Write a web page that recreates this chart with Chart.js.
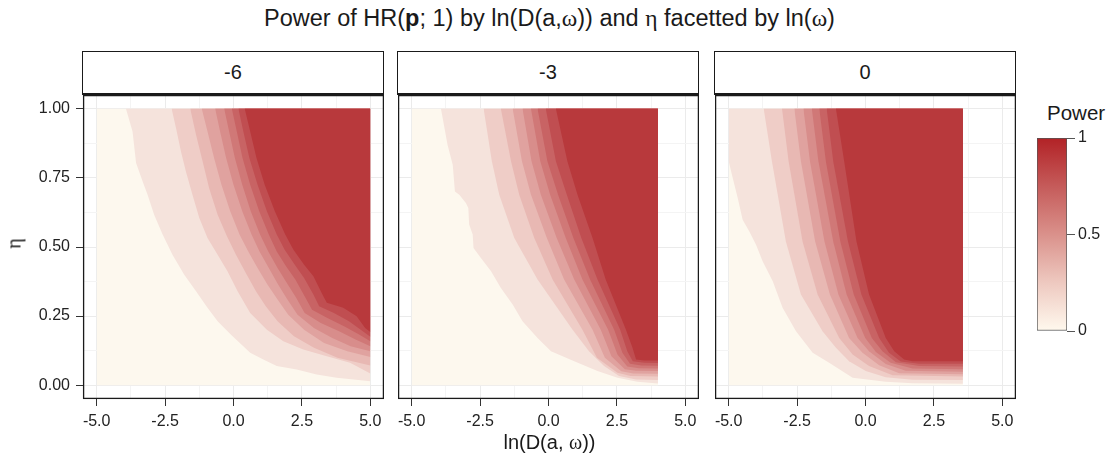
<!DOCTYPE html>
<html>
<head>
<meta charset="utf-8">
<script src="https://cdn.jsdelivr.net/npm/chart.js@4.4.1/dist/chart.umd.min.js"></script>
<style>
  body { margin: 0; width: 1114px; height: 462px; position: relative; overflow: hidden; background: #fff;
         font-family: "Liberation Sans", Arial, sans-serif; color: #1a1a1a; }
  .abs { position: absolute; }
  .sym { font-family: "Liberation Serif", "DejaVu Serif", serif; }
  #titulo { left: 83px; top: 5px; width: 933px; text-align: center; font-size: 23.5px; }
  .strip { box-sizing: border-box; top: 51px; height: 44px; width: 302px; background: #fff;
           border: 1.3px solid #1a1a1a; border-bottom: 2.6px solid #1a1a1a;
           text-align: center; font-size: 20px; line-height: 40px; }
  #xlab { left: 83px; top: 431px; width: 933px; text-align: center; font-size: 20px; }
  #ylab { left: 4px; top: 232px; width: 20px; text-align: center; font-size: 20px; transform: rotate(-90deg); }
  #legTitle { left: 1047px; top: 101px; font-size: 20.5px; }
</style>
</head>
<body>
<div id="titulo" class="abs">Power of HR(<b>p</b>; 1) by ln(D(a,<span class="sym">ω</span>)) and <span class="sym">η</span> facetted by ln(<span class="sym">ω</span>)</div>

<div id="strip0" class="abs strip" style="left:82px;"></div>
<div id="strip1" class="abs strip" style="left:397px;"></div>
<div id="strip2" class="abs strip" style="left:714px;"></div>

<canvas id="panel0" class="abs" width="384" height="367" style="left:0px; top:95px;"></canvas>
<canvas id="panel1" class="abs" width="301" height="367" style="left:398px; top:95px;"></canvas>
<canvas id="panel2" class="abs" width="301" height="367" style="left:715px; top:95px;"></canvas>

<div id="xlab" class="abs">ln(D(a, <span class="sym">ω</span>))</div>
<div id="ylab" class="abs sym">η</div>

<div id="legTitle" class="abs">Power</div>
<canvas id="leyenda" class="abs" width="77" height="210" style="left:1037px; top:130px;"></canvas>

<script>
// facetas de ln(omega)
const facetas = ['-6', '-3', '0'];
const xMaximo = [5, 4, 3.56];

// ticks de los ejes
const xTicks = [-5, -2.5, 0, 2.5, 5];
const yTicks = [0, 0.25, 0.5, 0.75, 1];
const xGrid = [-5, -3.75, -2.5, -1.25, 0, 1.25, 2.5, 3.75, 5];
const yGrid = [0, 0.125, 0.25, 0.375, 0.5, 0.625, 0.75, 0.875, 1];
const ticksPower = [0, 0.5, 1];

// niveles de potencia (limite inferior de cada banda)
const nivelesPower = [0, 0.1, 0.2, 0.3, 0.4, 0.5, 0.6, 0.7, 0.8, 0.9];

// contornos [ln(D), eta] para los niveles 0.1 ... 0.9, faceta ln(omega) = -6
const contornosM6 = [
  [[-3.93,1],[-3.69,0.918],[-3.56,0.804],[-3.32,0.737],[-3.14,0.689],[-2.90,0.617],[-2.59,0.545],[-2.23,0.472],[-1.80,0.400],[-1.37,0.340],[-0.95,0.280],[-0.58,0.231],[-0.10,0.183],[0.61,0.117],[1.09,0.093],[1.58,0.069],[2.31,0.057],[3.04,0.039],[3.77,0.027],[5.0,0.014]],
  [[-2.26,1],[-2.10,0.93],[-1.92,0.846],[-1.74,0.773],[-1.50,0.689],[-1.25,0.605],[-0.95,0.533],[-0.58,0.472],[-0.22,0.412],[0.15,0.340],[0.61,0.261],[1.22,0.201],[1.82,0.159],[2.55,0.129],[3.41,0.105],[4.26,0.081],[5.0,0.042]],
  [[-1.58,1],[-1.37,0.906],[-1.13,0.81],[-0.89,0.713],[-0.58,0.617],[-0.24,0.539],[0.09,0.472],[0.45,0.406],[0.82,0.340],[1.18,0.286],[1.61,0.231],[2.21,0.177],[2.94,0.135],[3.80,0.099],[5.0,0.071]],
  [[-1.16,1],[-0.95,0.918],[-0.71,0.822],[-0.44,0.725],[-0.12,0.629],[0.22,0.545],[0.54,0.484],[0.88,0.424],[1.24,0.364],[1.61,0.310],[2.00,0.255],[2.58,0.201],[3.31,0.153],[4.16,0.123],[5.0,0.102]],
  [[-0.67,1],[-0.49,0.918],[-0.27,0.822],[0.0,0.725],[0.32,0.629],[0.66,0.545],[0.95,0.484],[1.29,0.424],[1.63,0.364],[1.97,0.310],[2.34,0.255],[2.94,0.207],[3.61,0.171],[4.28,0.141],[5.0,0.123]],
  [[-0.34,1],[-0.16,0.918],[0.05,0.822],[0.32,0.725],[0.63,0.629],[0.97,0.545],[1.27,0.484],[1.61,0.424],[1.95,0.370],[2.29,0.316],[2.60,0.261],[3.19,0.225],[3.86,0.195],[4.46,0.165],[5.0,0.141]],
  [[-0.06,1],[0.12,0.918],[0.33,0.822],[0.61,0.725],[0.94,0.629],[1.29,0.545],[1.58,0.484],[1.92,0.430],[2.26,0.382],[2.60,0.322],[2.87,0.273],[3.43,0.243],[4.04,0.213],[4.59,0.183],[5.0,0.159]],
  [[0.18,1],[0.36,0.918],[0.58,0.822],[0.88,0.725],[1.22,0.629],[1.58,0.545],[1.87,0.490],[2.24,0.436],[2.58,0.388],[2.92,0.328],[3.13,0.286],[3.67,0.261],[4.22,0.231],[4.65,0.201],[5.0,0.175]],
  [[0.41,1],[0.61,0.918],[0.84,0.822],[1.14,0.725],[1.51,0.629],[1.89,0.545],[2.19,0.490],[2.58,0.436],[2.92,0.394],[3.25,0.328],[3.41,0.298],[4.01,0.280],[4.50,0.249],[4.81,0.207],[5.0,0.192]]
];

// faceta ln(omega) = -3
const contornosM3 = [
  [[-3.93,1],[-3.69,0.870],[-3.50,0.798],[-3.42,0.701],[-3.26,0.689],[-3.02,0.659],[-2.93,0.641],[-2.90,0.581],[-2.77,0.545],[-2.74,0.496],[-2.47,0.460],[-2.10,0.412],[-1.74,0.352],[-1.31,0.292],[-0.95,0.231],[-0.40,0.171],[0.09,0.123],[0.94,0.087],[1.79,0.051],[2.52,0.027],[3.25,0.012],[4.0,0.006]],
  [[-2.37,1],[-2.07,0.81],[-1.80,0.689],[-1.25,0.533],[-0.40,0.382],[0.88,0.201],[1.48,0.123],[2.03,0.069],[2.58,0.033],[3.2,0.021],[4.0,0.019]],
  [[-1.74,1],[-1.37,0.81],[-1.07,0.689],[-0.52,0.533],[0.15,0.382],[1.24,0.201],[1.77,0.099],[2.52,0.045],[3.0,0.033],[4.0,0.031]],
  [[-1.31,1],[-0.97,0.81],[-0.64,0.689],[-0.06,0.533],[0.57,0.382],[1.61,0.201],[2.06,0.099],[2.66,0.050],[3.1,0.042],[4.0,0.041]],
  [[-0.95,1],[-0.62,0.81],[-0.28,0.689],[0.30,0.533],[0.94,0.382],[1.91,0.201],[2.30,0.105],[2.79,0.058],[3.2,0.052],[4.0,0.051]],
  [[-0.64,1],[-0.30,0.81],[0.06,0.689],[0.63,0.533],[1.24,0.382],[2.18,0.201],[2.52,0.111],[2.88,0.068],[3.3,0.061],[4.0,0.060]],
  [[-0.40,1],[-0.04,0.81],[0.35,0.689],[0.91,0.533],[1.52,0.382],[2.40,0.201],[2.70,0.117],[2.98,0.078],[3.4,0.071],[4.0,0.070]],
  [[-0.10,1],[0.27,0.81],[0.67,0.689],[1.20,0.533],[1.79,0.382],[2.62,0.201],[2.88,0.123],[3.08,0.087],[3.5,0.081],[4.0,0.080]],
  [[0.27,1],[0.69,0.81],[1.06,0.689],[1.61,0.533],[2.09,0.382],[2.83,0.201],[3.07,0.135],[3.20,0.093],[3.5,0.089],[4.0,0.089]]
];

// faceta ln(omega) = 0
const contornos0 = [
  [[-5,0.81],[-4.85,0.749],[-4.67,0.677],[-4.49,0.599],[-4.25,0.557],[-4.0,0.508],[-3.76,0.448],[-3.39,0.376],[-3.03,0.280],[-2.54,0.195],[-1.93,0.117],[-1.33,0.081],[-0.47,0.027],[0.74,0.012],[1.72,0.007],[3.56,0.005]],
  [[-3.72,1],[-3.42,0.81],[-2.91,0.52],[-2.36,0.328],[-1.57,0.195],[-1.08,0.135],[-0.60,0.087],[0.01,0.051],[0.74,0.029],[1.72,0.020],[3.56,0.019]],
  [[-3.05,1],[-2.81,0.81],[-2.30,0.52],[-1.75,0.328],[-0.96,0.171],[-0.47,0.111],[0.13,0.069],[0.99,0.036],[3.56,0.031]],
  [[-2.60,1],[-2.36,0.81],[-1.84,0.52],[-1.30,0.328],[-0.60,0.171],[-0.11,0.117],[0.50,0.072],[1.23,0.043],[3.56,0.040]],
  [[-2.27,1],[-2.03,0.81],[-1.50,0.52],[-0.99,0.328],[-0.29,0.171],[0.13,0.123],[0.74,0.077],[1.47,0.052],[3.56,0.049]],
  [[-1.96,1],[-1.72,0.81],[-1.18,0.52],[-0.69,0.328],[-0.01,0.171],[0.38,0.120],[0.92,0.081],[1.72,0.060],[3.56,0.058]],
  [[-1.69,1],[-1.45,0.81],[-0.92,0.52],[-0.43,0.328],[0.23,0.171],[0.62,0.123],[1.11,0.083],[1.96,0.069],[3.56,0.068]],
  [[-1.42,1],[-1.18,0.81],[-0.64,0.52],[-0.15,0.328],[0.50,0.171],[0.86,0.117],[1.29,0.086],[1.96,0.078],[3.56,0.078]],
  [[-1.08,1],[-0.78,0.81],[-0.33,0.52],[0.13,0.328],[0.74,0.171],[1.05,0.123],[1.41,0.093],[1.72,0.087],[3.56,0.087]]
];

const contornos = [contornosM6, contornosM3, contornos0];

// colores de las bandas, de 0 a 0.9
const coloresBanda = ['#FDF8EE', '#F5E3DC', '#EFCDC7', '#E8B8B3', '#E0A29F', '#D88D8B', '#D07877', '#C86364', '#C04E51', '#B8393C'];

Chart.defaults.font.family = '"Liberation Sans", Arial, sans-serif';
Chart.defaults.color = '#222';

const esMayor = (lista, v) => lista.some(t => Math.abs(t - v) < 1e-9);

// marco negro alrededor del panel
const marcoPanel = {
    id: 'marcoPanel',
    afterDraw(chart) {
        const { ctx, chartArea: a } = chart;
        ctx.save();
        ctx.strokeStyle = '#1a1a1a';
        ctx.lineWidth = 1.3;
        ctx.strokeRect(a.left + 0.6, a.top + 0.6, a.right - a.left - 1.2, a.bottom - a.top - 1.2);
        ctx.restore();
    }
};

function crearPanel(i) {
    const xMax = xMaximo[i];
    const lineas = contornos[i];
    const conEjeY = i === 0;

    // base: todo el rectangulo de datos en la banda mas baja
    const datasets = [{
        data: [{ x: xTicks[0], y: yTicks[0] }, { x: xMax, y: yTicks[0] }],
        backgroundColor: coloresBanda[0],
        order: lineas.length + 1
    }];
    lineas.forEach((linea, k) => {
        datasets.push({
            data: linea.map(([x, y]) => ({ x: x, y: y })),
            backgroundColor: coloresBanda[k + 1],
            order: lineas.length - k
        });
    });
    datasets.forEach(d => Object.assign(d, {
        fill: { value: yTicks[yTicks.length - 1] },
        borderWidth: 0, borderColor: 'rgba(0,0,0,0)', pointRadius: 0, tension: 0
    }));

    document.getElementById('strip' + i).innerText = facetas[i];

    new Chart(document.getElementById('panel' + i), {
        type: 'line',
        data: { datasets: datasets },
        plugins: [marcoPanel],
        options: {
            responsive: false,
            animation: false,
            events: [],
            layout: { padding: 0 },
            plugins: { legend: { display: false }, tooltip: { enabled: false } },
            scales: {
                x: {
                    type: 'linear', min: -5.5, max: 5.5,
                    afterBuildTicks: s => { s.ticks = xGrid.map(v => ({ value: v })); },
                    afterFit: s => { s.height = 63; s.paddingLeft = 0; s.paddingRight = 0; },
                    ticks: {
                        autoSkip: false, maxRotation: 0, padding: 6,
                        font: { size: 16 }, color: '#222',
                        callback: v => esMayor(xTicks, v) ? v.toFixed(1) : ''
                    },
                    grid: {
                        color: c => esMayor(xTicks, c.tick.value) ? '#EBEBEB' : '#F4F4F4',
                        lineWidth: 1,
                        tickLength: 7,
                        tickColor: c => esMayor(xTicks, c.tick.value) ? '#333' : 'rgba(0,0,0,0)'
                    },
                    border: { display: false }
                },
                y: {
                    type: 'linear', min: -0.05, max: 1.05,
                    afterBuildTicks: s => { s.ticks = yGrid.map(v => ({ value: v })); },
                    afterFit: s => { s.width = conEjeY ? 83 : 0; s.paddingTop = 0; s.paddingBottom = 0; },
                    ticks: {
                        display: conEjeY, autoSkip: false, padding: 6,
                        font: { size: 16 }, color: '#222',
                        callback: v => esMayor(yTicks, v) ? v.toFixed(2) : ''
                    },
                    grid: {
                        color: c => esMayor(yTicks, c.tick.value) ? '#EBEBEB' : '#F4F4F4',
                        lineWidth: 1,
                        drawTicks: conEjeY,
                        tickLength: 7,
                        tickColor: c => esMayor(yTicks, c.tick.value) ? '#333' : 'rgba(0,0,0,0)'
                    },
                    border: { display: false }
                }
            }
        }
    });
}

facetas.forEach((f, i) => crearPanel(i));

// barra de colores de la leyenda
new Chart(document.getElementById('leyenda'), {
    type: 'bar',
    data: {
        labels: ['Power'],
        datasets: [{
            data: [ticksPower[ticksPower.length - 1]],
            backgroundColor: (ctx) => {
                const area = ctx.chart.chartArea;
                if (!area) return coloresBanda[5];
                const g = ctx.chart.ctx.createLinearGradient(0, area.bottom, 0, area.top);
                g.addColorStop(0, '#FFF9EE');
                g.addColorStop(0.25, '#EEC9C0');
                g.addColorStop(0.5, '#DA918B');
                g.addColorStop(0.75, '#C55B5A');
                g.addColorStop(1, '#B22226');
                return g;
            },
            borderColor: '#555',
            borderWidth: 1,
            borderSkipped: false,
            barPercentage: 1,
            categoryPercentage: 1
        }]
    },
    options: {
        responsive: false,
        animation: false,
        events: [],
        layout: { padding: { top: 8, bottom: 9 } },
        plugins: { legend: { display: false }, tooltip: { enabled: false } },
        scales: {
            x: { display: false },
            y: {
                position: 'right', min: 0, max: 1,
                afterBuildTicks: s => { s.ticks = ticksPower.map(v => ({ value: v })); },
                afterFit: s => { s.width = 47; s.paddingTop = 0; s.paddingBottom = 0; },
                ticks: { padding: 3, font: { size: 16 }, color: '#222', callback: v => String(v) },
                grid: { drawOnChartArea: false, tickLength: 8, tickColor: '#555' },
                border: { display: false }
            }
        }
    }
});
</script>
</body>
</html>
